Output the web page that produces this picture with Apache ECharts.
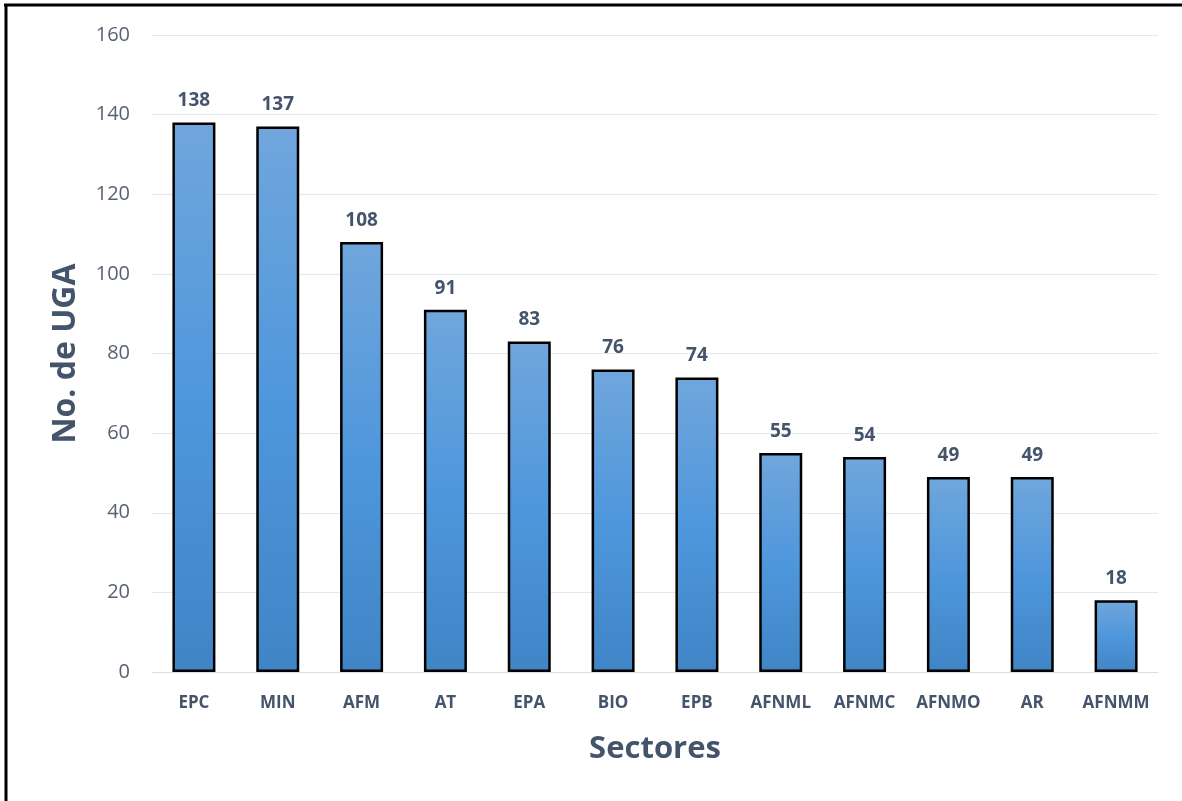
<!DOCTYPE html>
<html>
<head>
<meta charset="utf-8">
<script src="https://cdn.jsdelivr.net/npm/echarts@6/dist/echarts.min.js"></script>
<style>
  html, body { margin: 0; padding: 0; background: #fff; }
  #main { width: 1182px; height: 801px; }
</style>
</head>
<body>
<div id="main"></div>
<script>
const sectores = ['EPC', 'MIN', 'AFM', 'AT', 'EPA', 'BIO', 'EPB', 'AFNML', 'AFNMC', 'AFNMO', 'AR', 'AFNMM']
const numUGA = [138, 137, 108, 91, 83, 76, 74, 55, 54, 49, 49, 18]
const yTicks = { min: 0, max: 160, step: 20 }

const chart = echarts.init(document.getElementById('main'))
chart.setOption({
  animation: false,
  backgroundColor: '#ffffff',
  textStyle: { fontFamily: 'Open Sans, Liberation Sans, sans-serif' },
  graphic: [
    // marco negro (solo arriba e izquierda)
    { type: 'line', shape: { x1: 4, y1: 5, x2: 1182, y2: 5 }, style: { stroke: '#000', lineWidth: 3 } },
    { type: 'line', shape: { x1: 6, y1: 4, x2: 6, y2: 801 }, style: { stroke: '#000', lineWidth: 3 } }
  ],
  grid: { left: 152, right: 24, top: 35, bottom: 129 },
  xAxis: {
    type: 'category',
    data: sectores,
    name: 'Sectores',
    nameLocation: 'middle',
    nameGap: 62,
    nameTextStyle: { fontSize: 31, fontWeight: 'bold', color: '#44546a' },
    axisLine: { show: true, lineStyle: { color: '#d9dee6' } },
    axisTick: { show: false },
    axisLabel: { interval: 0, fontSize: 17, fontWeight: 'bold', color: '#44546a', margin: 23 }
  },
  yAxis: {
    type: 'value',
    min: yTicks.min,
    max: yTicks.max,
    interval: yTicks.step,
    name: 'No. de UGA',
    nameLocation: 'middle',
    nameGap: 70,
    nameTextStyle: { fontSize: 32, fontWeight: 'bold', color: '#44546a' },
    axisLine: { show: false },
    axisTick: { show: false },
    axisLabel: { fontSize: 20, color: '#596273', margin: 22 },
    splitLine: { lineStyle: { color: '#e3e8ef', width: 1 } }
  },
  series: [{
    type: 'bar',
    data: numUGA,
    barWidth: 43,
    itemStyle: {
      borderColor: '#000',
      borderWidth: 2.5,
      color: new echarts.graphic.LinearGradient(0, 0, 0, 1, [
        { offset: 0, color: '#70a6dc' },
        { offset: 0.5, color: '#4f97dc' },
        { offset: 1, color: '#3f85c6' }
      ])
    },
    label: {
      show: true,
      position: 'top',
      distance: 12,
      fontSize: 19,
      fontWeight: 'bold',
      color: '#44546a'
    }
  }]
})
</script>
</body>
</html>
